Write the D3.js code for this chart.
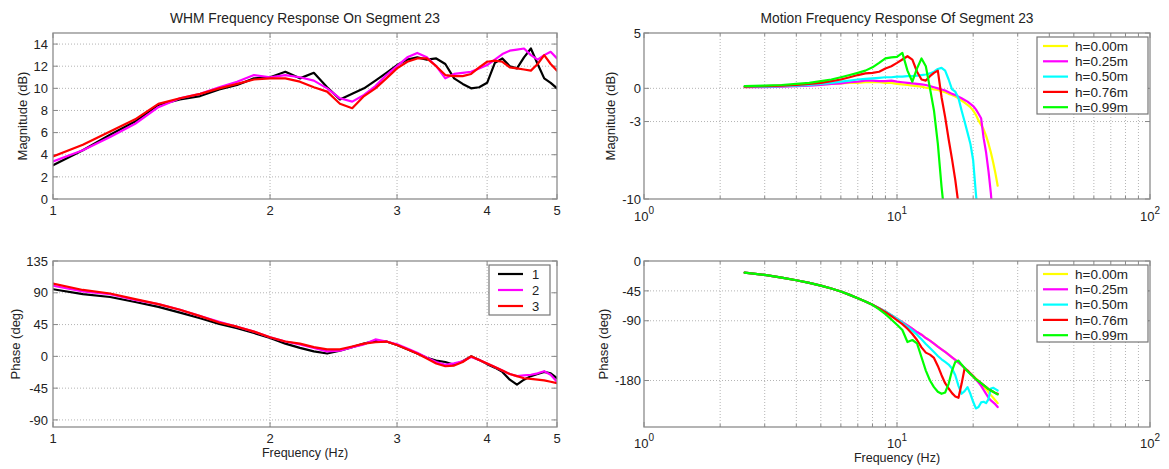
<!DOCTYPE html>
<html><head><meta charset="utf-8">
<script src="https://cdn.jsdelivr.net/npm/d3@7"></script>
<style>
body{margin:0;background:#fff;}
svg text{font-family:"Liberation Sans",Arial,Helvetica,sans-serif;fill:#222;}
</style></head>
<body><svg id="chart" width="1169" height="469"></svg>
<script>
// ---------------- DATA ----------------
const whmFreq = [1.0,1.1,1.2,1.3,1.4,1.5,1.6,1.7,1.8,1.9,2.0,2.1,2.2,2.3,2.4,2.5,2.6,2.7,2.8,2.9,3.0,3.1,3.2,3.3,3.4,3.5,3.6,3.7,3.8,3.9,4.0,4.1,4.2,4.3,4.4,4.5,4.6,4.7,4.8,4.9,5.0];
const whmMag1 = [3.05,4.4,5.8,7.0,8.5,9.0,9.3,9.9,10.3,10.9,11.0,11.5,10.9,11.4,10.1,9.0,9.5,10.0,10.7,11.4,12.1,12.6,12.8,12.6,12.7,12.2,10.9,10.4,10.0,10.1,10.5,12.3,12.7,12.0,11.8,12.8,13.6,12.2,10.9,10.5,10.0];
const whmMag2 = [3.4,4.4,5.6,6.8,8.3,9.1,9.5,10.1,10.6,11.2,11.0,11.2,11.0,10.7,10.0,9.1,8.8,9.4,10.2,11.2,12.0,12.8,13.2,12.8,12.0,10.9,11.3,11.4,11.5,11.8,12.1,12.6,13.1,13.4,13.5,13.6,13.0,12.6,13.0,13.3,12.7];
const whmMag3 = [3.85,4.9,6.1,7.2,8.6,9.1,9.5,10.0,10.4,10.8,10.9,10.9,10.6,10.1,9.7,8.6,8.2,9.3,10.0,10.9,11.8,12.4,12.7,12.7,12.0,11.2,11.1,11.1,11.3,11.9,12.4,12.5,12.4,11.9,11.8,11.7,11.6,12.2,13.0,12.2,11.6];
const whmPhase1 = [95,88,84,77,70,62,54,46,40,33,26,18,12,7,4,8,13,18,22,21,16,10,4,-2,-6,-8,-12,-7,0,-5,-11,-16,-22,-33,-40,-33,-28,-25,-22,-24,-31];
const whmPhase2 = [100,92,88,80,74,66,57,49,42,35,27,21,17,12,7,8,13,17,24,21,17,11,5,-2,-8,-12,-10,-7,-1,-5,-10,-15,-20,-25,-28,-27,-26,-24,-21,-26,-36];
const whmPhase3 = [103,94,89,81,74,66,57,48,42,35,27,21,18,13,10,10,14,18,20,21,16,10,4,-3,-10,-14,-13,-8,0,-5,-10,-15,-20,-25,-28,-31,-32,-33,-34,-36,-38];
const whmLabels = ["1","2","3"];

const motionFreq = [2.5,3,3.5,4,4.5,5,5.5,6,6.5,7,7.5,8,8.5,9,9.5,10,10.5,11,11.5,12,12.5,13,13.5,14,14.5,15,15.5,16,16.5,17,17.5,18,18.5,19,19.5,20,20.5,21,21.5,22,22.5,23,23.5,24,24.5,25];
const magH000 = [0.1,0.15,0.2,0.25,0.3,0.35,0.4,0.45,0.5,0.5,0.55,0.55,0.55,0.5,0.5,0.4,0.35,0.3,0.25,0.2,0.15,0.05,0,-0.1,-0.15,-0.25,-0.35,-0.5,-0.6,-0.75,-0.9,-1.1,-1.3,-1.5,-1.7,-2.0,-2.4,-2.9,-3.3,-3.7,-4.3,-5.0,-5.8,-6.7,-7.7,-8.8];
const magH025 = [0.1,0.1,0.15,0.2,0.25,0.3,0.4,0.45,0.55,0.6,0.7,0.7,0.65,0.65,0.7,0.6,0.55,0.5,0.45,0.4,0.35,0.3,0.2,0.1,0,-0.1,-0.2,-0.35,-0.5,-0.6,-0.75,-0.9,-1.05,-1.2,-1.4,-1.6,-1.9,-2.3,-2.7,-4.5,-5.8,-7.5,-9.5,-12,-14,-16];
const magH050 = [0.15,0.15,0.2,0.25,0.3,0.4,0.5,0.6,0.7,0.8,0.85,0.9,0.95,1.0,1.0,1.05,1.05,1.1,1.1,1.15,1.2,1.25,1.35,1.5,1.75,1.85,1.6,0.8,-0.1,-0.3,-0.9,-2.0,-3.0,-4.0,-5.0,-6.5,-9.5,-12,-14,-15,-16,-17,-18,-19,-20,-21];
const magH076 = [0.15,0.2,0.25,0.3,0.4,0.5,0.65,0.8,1.0,1.2,1.35,1.4,1.5,1.8,2.0,2.3,2.6,2.9,2.6,1.5,0.8,0.7,1.1,1.4,1.6,-0.8,-2.6,-4.6,-6.4,-8.3,-10.5,-13,-15,-16,-17,-18,-19,-20,-21,-22,-23,-24,-25,-26,-27,-28];
const magH099 = [0.2,0.25,0.3,0.4,0.5,0.65,0.8,1.0,1.2,1.4,1.6,1.9,2.3,2.7,2.8,2.85,3.2,1.6,0.6,1.8,2.7,2.0,0.0,-2.0,-5.0,-8.9,-12,-15,-16,-17,-18,-19,-20,-21,-22,-23,-24,-25,-26,-27,-28,-29,-30,-31,-32,-33];
const phH000 = [-17.5,-21,-25,-29,-33,-37,-41.5,-46,-51,-56,-61,-66,-71,-76,-81.5,-87,-92,-97,-102,-107,-111,-116,-120,-124.5,-129,-133,-137,-141,-145,-149,-153,-157,-161,-165,-169,-173,-177,-181,-185,-189,-193,-198,-202,-206,-210,-214];
const phH025 = [-17.5,-21,-25,-29,-33,-37,-41.5,-46,-51,-56,-61,-66,-71,-76,-81.5,-87,-92,-97,-102,-107,-111,-116,-120,-124.5,-129,-133,-137,-141,-145,-149,-153,-157,-161,-165,-169,-173,-178,-183,-188,-194,-200,-206,-210,-213,-216,-220];
const phH050 = [-17.5,-21,-25,-29,-33,-37,-41.5,-46,-51,-56,-61,-66,-71,-76,-81.5,-87,-93,-99,-105,-111,-118,-125,-131,-137,-143,-148,-152,-156,-162,-172,-188,-200,-196,-190,-200,-212,-222,-220,-213,-212,-214,-208,-192,-191,-193,-195];
const phH076 = [-17.5,-21,-25,-29,-33,-37,-41.5,-46,-51,-56,-61,-66,-71.5,-77,-83,-89,-95,-102,-110,-119,-130,-138,-141,-146,-158,-172,-184,-192,-199,-204,-206,-185,-162,-165,-170,-174,-178,-181,-184,-187,-190,-193,-195,-197,-199,-200];
const phH099 = [-17.5,-21,-25,-29,-33,-37,-41.5,-46,-51,-56,-61,-66,-73,-80,-88,-96,-104,-122,-119,-124,-145,-165,-180,-190,-197,-200,-198,-185,-165,-152,-150,-156,-161,-166,-170,-174,-178,-181,-184,-187,-190,-193,-195,-197,-199,-201];
const motionLabels = ["h=0.00m","h=0.25m","h=0.50m","h=0.76m","h=0.99m"];

const whmColors = ["#000000","#ff00ff","#ff0000"];
const motionColors = ["#ffff00","#ff00ff","#00ffff","#ff0000","#00ff00"];

// ---------------- DRAWING ----------------
const svg = d3.select("#chart");
let clipId = 0;

function drawPanel(p) {
  const g = svg.append("g");
  const x = d3.scaleLog().domain(p.xDomain).range([p.left, p.right]);
  const y = d3.scaleLinear().domain(p.yDomain).range([p.bottom, p.top]);
  const gridCol = "#b4b4b4";
  // grid
  g.selectAll(null).data(p.xGrid).join("line")
    .attr("x1", d => x(d)).attr("x2", d => x(d))
    .attr("y1", p.top).attr("y2", p.bottom)
    .attr("stroke", gridCol).attr("stroke-width", 1).attr("stroke-dasharray", "1,2");
  g.selectAll(null).data(p.yTicks.filter(v => v > p.yDomain[0] && v < p.yDomain[1])).join("line")
    .attr("x1", p.left).attr("x2", p.right)
    .attr("y1", d => y(d)).attr("y2", d => y(d))
    .attr("stroke", gridCol).attr("stroke-width", 1).attr("stroke-dasharray", "1,2");
  // ticks inside (major + minor on x)
  const tickCol = "#888";
  const xt = p.xTickMarks;
  g.selectAll(null).data(xt).join("path")
    .attr("d", d => `M${x(d.v)},${p.bottom}v${-d.len}M${x(d.v)},${p.top}v${d.len}`)
    .attr("stroke", tickCol).attr("stroke-width", 1);
  g.selectAll(null).data(p.yTicks).join("path")
    .attr("d", d => `M${p.left},${y(d)}h5M${p.right},${y(d)}h-5`)
    .attr("stroke", tickCol).attr("stroke-width", 1);
  // clip + series
  const cid = "clip" + (clipId++);
  svg.append("clipPath").attr("id", cid).append("rect")
    .attr("x", p.left).attr("y", p.top).attr("width", p.right - p.left).attr("height", p.bottom - p.top);
  const line = d3.line().x(d => x(d[0])).y(d => y(d[1]));
  const lg = g.append("g").attr("clip-path", `url(#${cid})`);
  p.series.forEach((s, i) => {
    lg.append("path").datum(p.xs.map((f, k) => [f, s[k]]))
      .attr("d", line).attr("fill", "none").attr("stroke", p.colors[i])
      .attr("stroke-width", 2.2).attr("stroke-linejoin", "round").attr("stroke-linecap", "round");
  });
  // box
  g.append("rect").attr("x", p.left).attr("y", p.top)
    .attr("width", p.right - p.left).attr("height", p.bottom - p.top)
    .attr("fill", "none").attr("stroke", "#8c8c8c").attr("stroke-width", 1.3);
  // y tick labels
  g.selectAll(null).data(p.yTicks).join("text")
    .attr("x", p.yLabelX).attr("y", d => y(d)).attr("dy", "0.36em")
    .attr("text-anchor", "end").attr("font-size", 13).text(d => p.yFmt(d));
  // x tick labels
  p.xLabels.forEach(t => {
    const tx = g.append("text").attr("x", x(t.v)).attr("y", p.xLabelY)
      .attr("text-anchor", "middle").attr("font-size", 13);
    tx.append("tspan").text(t.base);
    if (t.sup !== undefined) tx.append("tspan").attr("dy", -7).attr("font-size", 10).text(t.sup);
  });
  // axis labels
  g.append("text").attr("transform", `translate(${p.yTitleX},${(p.top + p.bottom) / 2}) rotate(-90)`)
    .attr("text-anchor", "middle").attr("font-size", 13).text(p.yTitle);
  if (p.xTitle) g.append("text").attr("x", (p.left + p.right) / 2).attr("y", p.xTitleY)
    .attr("text-anchor", "middle").attr("font-size", 12.5).text(p.xTitle);
  if (p.title) g.append("text").attr("x", (p.left + p.right) / 2).attr("y", 23)
    .attr("text-anchor", "middle").attr("font-size", 13.8).text(p.title);
  // legend
  if (p.legend) {
    const L = p.legend;
    const lgd = g.append("g");
    lgd.append("rect").attr("x", L.x).attr("y", L.y).attr("width", L.w).attr("height", L.h)
      .attr("fill", "#fff").attr("stroke", "#777").attr("stroke-width", 1.2);
    L.labels.forEach((lab, i) => {
      const yy = L.y + L.first + i * L.step;
      lgd.append("line").attr("x1", L.x + L.lx0).attr("x2", L.x + L.lx1).attr("y1", yy).attr("y2", yy)
        .attr("stroke", p.colors[i]).attr("stroke-width", 2.2);
      lgd.append("text").attr("x", L.x + L.tx).attr("y", yy).attr("dy", "0.36em")
        .attr("font-size", L.fs).text(lab);
    });
  }
}

const linTicks = [2,3,4];
const leftTickMarks = [1,2,3,4,5].map(v => ({v, len: 5}));
const logMinor = [2,3,4,5,6,7,8,9,20,30,40,50,60,70,80,90];
const rightTickMarks = [1,10,100].map(v => ({v, len: 5})).concat(logMinor.map(v => ({v, len: 3})));
const leftXLabels = [1,2,3,4,5].map(v => ({v, base: String(v)}));
const rightXLabels = [[1,"0"],[10,"1"],[100,"2"]].map(([v, s]) => ({v, base: "10", sup: s}));

drawPanel({
  left: 53, right: 557, top: 33, bottom: 199,
  xDomain: [1, 5], yDomain: [0, 15],
  xGrid: linTicks, yTicks: [0,2,4,6,8,10,12,14], yFmt: d => d, yLabelX: 48,
  xTickMarks: leftTickMarks, xLabels: leftXLabels, xLabelY: 215,
  xs: whmFreq, series: [whmMag1, whmMag2, whmMag3], colors: whmColors,
  yTitle: "Magnitude (dB)", yTitleX: 27, title: "WHM Frequency Response On Segment 23"
});
drawPanel({
  left: 53, right: 557, top: 261, bottom: 427,
  xDomain: [1, 5], yDomain: [-100, 135],
  xGrid: linTicks, yTicks: [-90,-45,0,45,90,135], yFmt: d => d, yLabelX: 48,
  xTickMarks: leftTickMarks, xLabels: leftXLabels, xLabelY: 443,
  xs: whmFreq, series: [whmPhase1, whmPhase2, whmPhase3], colors: whmColors,
  yTitle: "Phase (deg)", yTitleX: 20, xTitle: "Frequency (Hz)", xTitleY: 457,
  legend: {x: 489, y: 265, w: 61, h: 50, first: 9, step: 16, lx0: 9, lx1: 34, tx: 43, fs: 13, labels: whmLabels}
});
drawPanel({
  left: 644, right: 1150, top: 33, bottom: 199,
  xDomain: [1, 100], yDomain: [-10, 5],
  xGrid: [2,3,4,5,6,7,8,9,10,20,30,40,50,60,70,80,90], yTicks: [-10,-3,0,5], yFmt: d => d, yLabelX: 641,
  xTickMarks: rightTickMarks, xLabels: rightXLabels, xLabelY: 221,
  xs: motionFreq, series: [magH000, magH025, magH050, magH076, magH099], colors: motionColors,
  yTitle: "Magnitude (dB)", yTitleX: 615, title: "Motion Frequency Response Of Segment 23",
  legend: {x: 1037, y: 37, w: 111, h: 77, first: 9, step: 15.3, lx0: 6, lx1: 31, tx: 38, fs: 13.5, labels: motionLabels}
});
drawPanel({
  left: 644, right: 1150, top: 261, bottom: 427,
  xDomain: [1, 100], yDomain: [-250, 0],
  xGrid: [2,3,4,5,6,7,8,9,10,20,30,40,50,60,70,80,90], yTicks: [-180,-90,-45,0], yFmt: d => d, yLabelX: 641,
  xTickMarks: rightTickMarks, xLabels: rightXLabels, xLabelY: 448,
  xs: motionFreq, series: [phH000, phH025, phH050, phH076, phH099], colors: motionColors,
  yTitle: "Phase (deg)", yTitleX: 608, xTitle: "Frequency (Hz)", xTitleY: 462,
  legend: {x: 1037, y: 265, w: 111, h: 77, first: 9, step: 15.3, lx0: 6, lx1: 31, tx: 38, fs: 13.5, labels: motionLabels}
});
</script>
</body></html>
